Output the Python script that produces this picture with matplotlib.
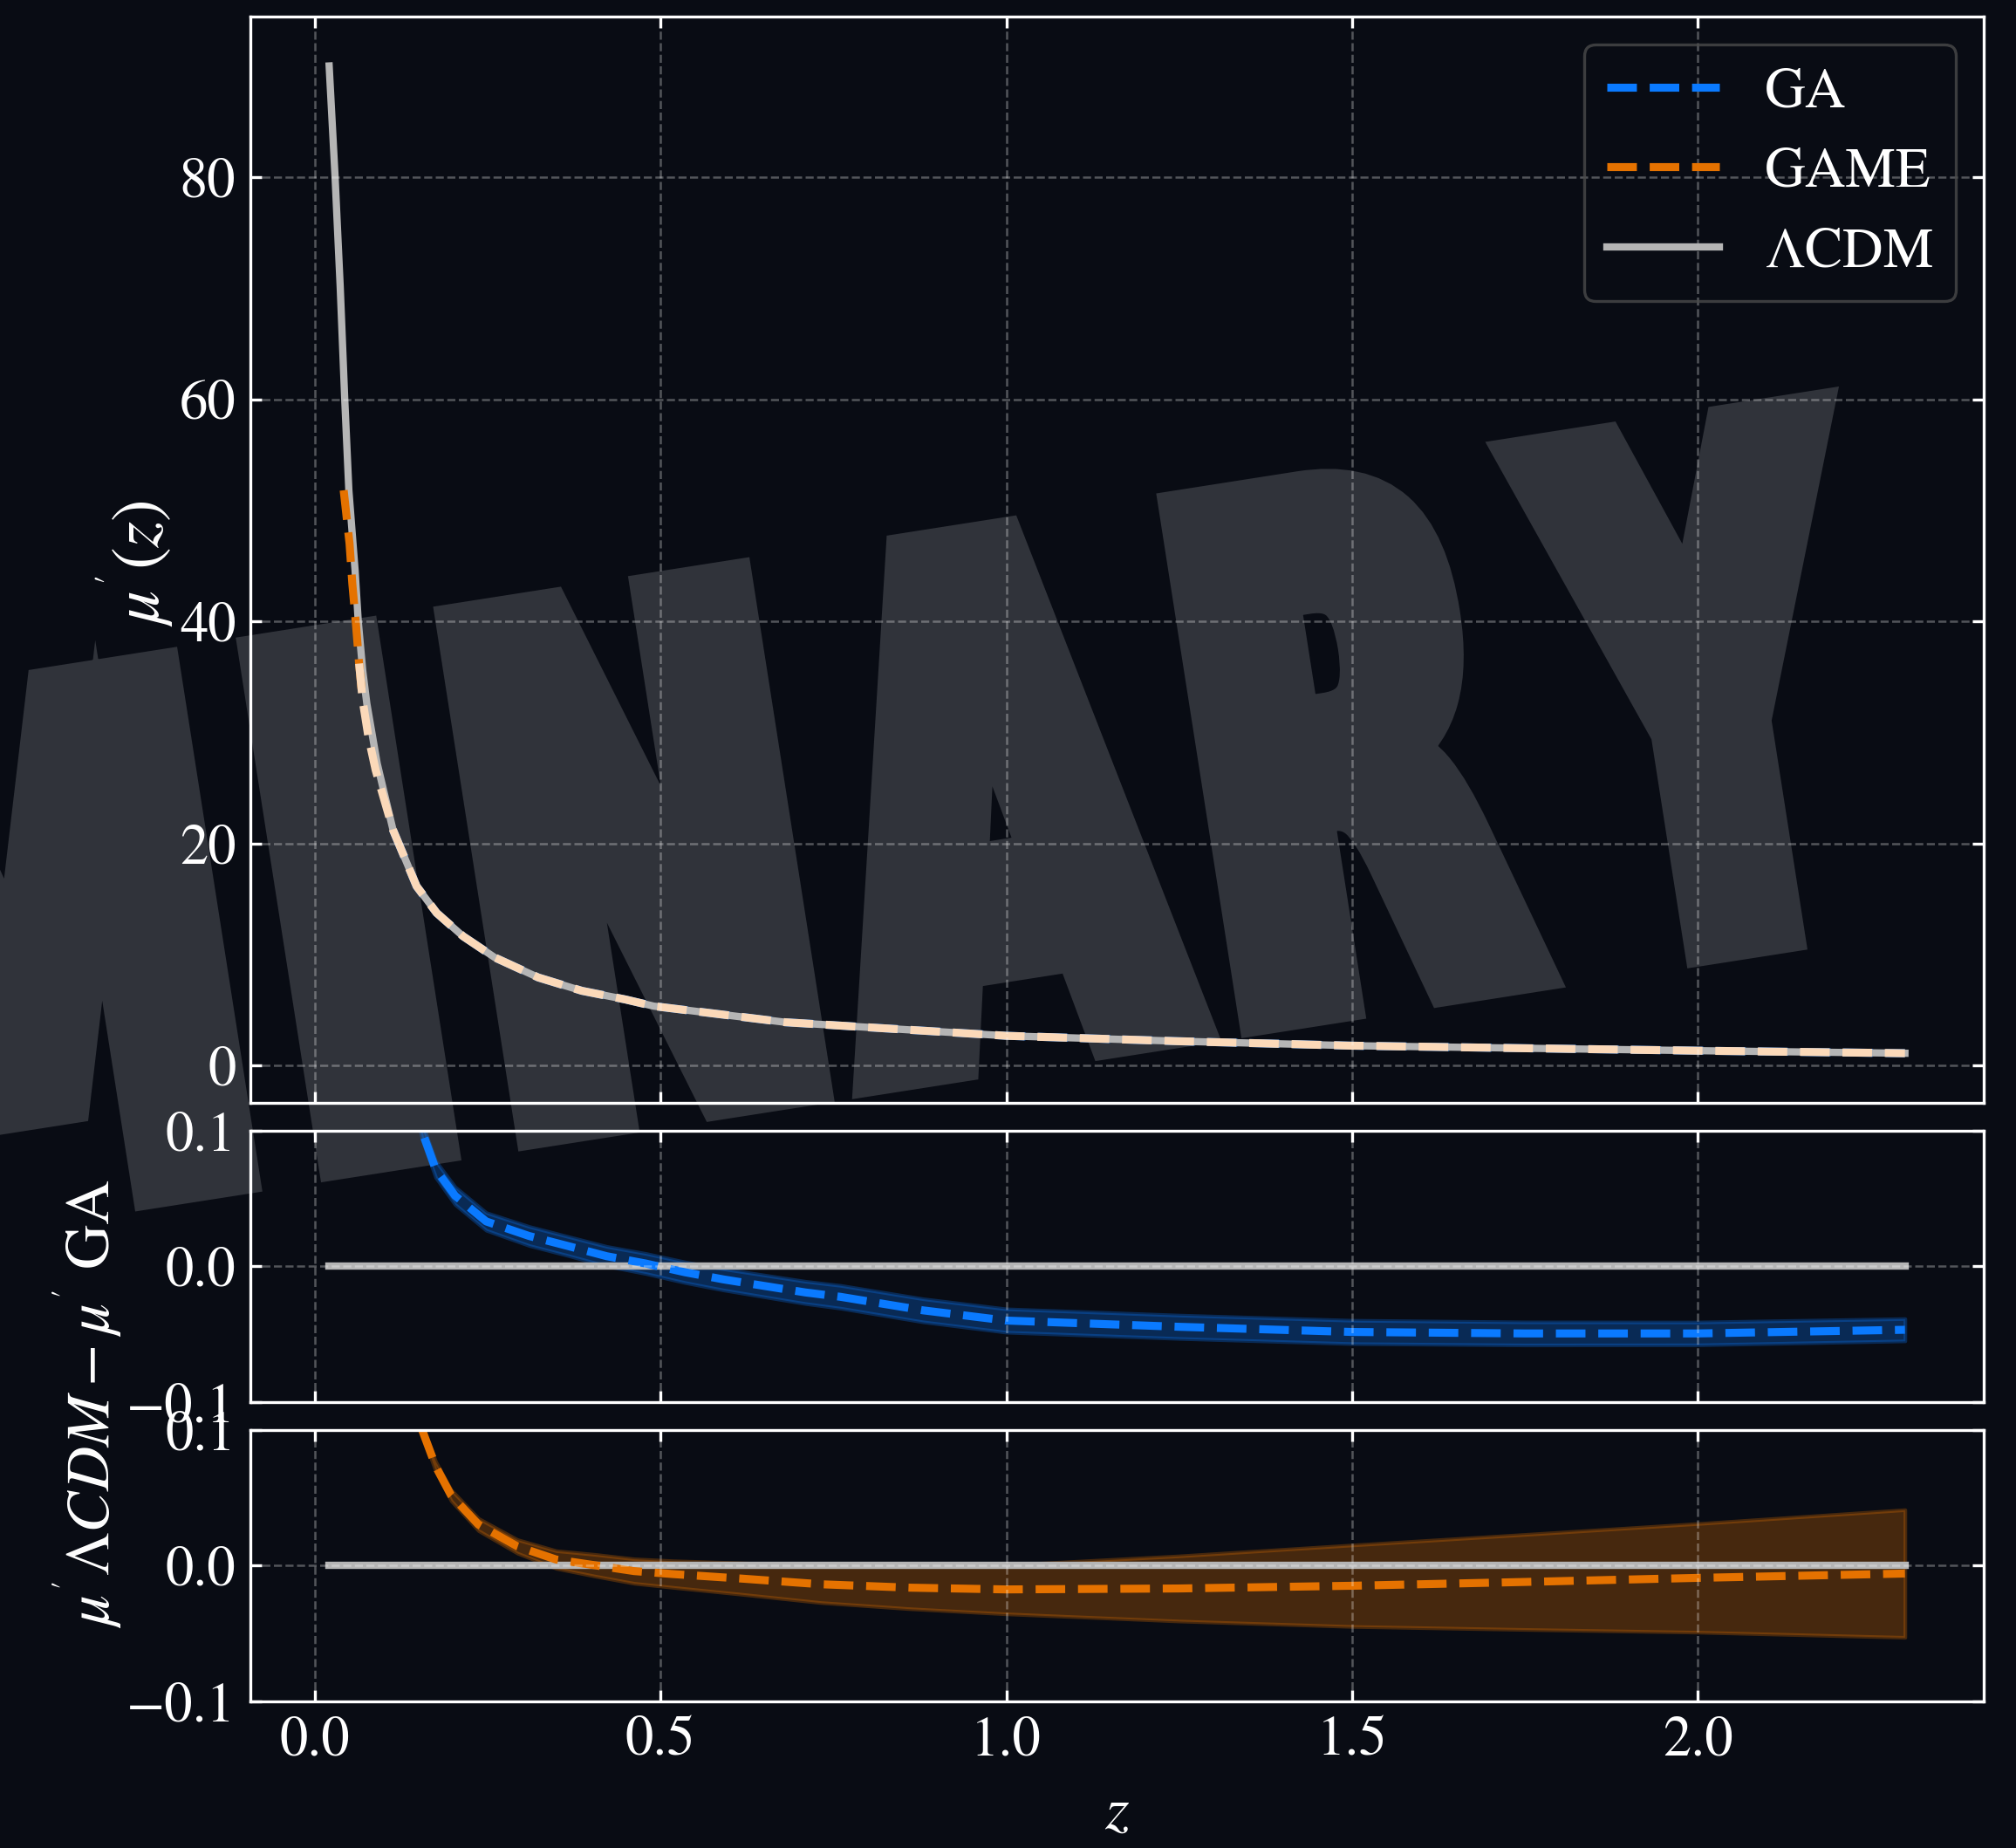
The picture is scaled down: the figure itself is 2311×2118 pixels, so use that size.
import numpy as np
import matplotlib
matplotlib.use("Agg")
import matplotlib.pyplot as plt
import matplotlib.transforms as mtransforms
from matplotlib.textpath import TextPath
from matplotlib.font_manager import FontProperties
from matplotlib.patches import PathPatch
from matplotlib.lines import Line2D

# ---------------------------------------------------------------- data
# mu'(z) for the reference LCDM model
z_mu = [0.0205, 0.029, 0.0365, 0.043, 0.049, 0.058, 0.0626, 0.069, 0.075,
        0.09, 0.113, 0.147, 0.176, 0.214, 0.26, 0.323, 0.386, 0.449, 0.49,
        0.68, 1.0, 1.25, 1.5, 1.75, 2.0, 2.3]
mu_lcdm = [90.0, 80.1, 70.1, 60.05, 51.8, 44.6, 40.0, 35.6, 32.6,
           27.2, 21.2, 16.15, 13.75, 11.66, 9.74, 7.94, 6.74, 5.96, 5.36,
           3.91, 2.69, 2.2, 1.80, 1.57, 1.35, 1.12]

# GAME reconstruction at low redshift (departs from LCDM below z ~ 0.07)
z_game_lowz = [0.0415, 0.05, 0.054, 0.0592, 0.0638, 0.0689, 0.0773, 0.0878]
mu_game_lowz = [51.8, 47.0, 43.4, 39.8, 36.2, 32.9, 29.6, 26.6]

# residuals mu'_LCDM - mu'_model with 1-sigma widths
z_res_ga = [0.145, 0.155, 0.1746, 0.2026, 0.2477, 0.3097, 0.366, 0.422,
            0.4786, 0.535, 0.591, 0.65, 0.7095, 0.76, 0.88, 1.0, 1.25, 1.5,
            1.75, 2.0, 2.3]
res_ga = [0.125, 0.0993, 0.0715, 0.052, 0.033, 0.0223, 0.0149, 0.0074,
          0.002, -0.0044, -0.0097, -0.0145, -0.0193, -0.0225, -0.0325,
          -0.040, -0.0446, -0.0484, -0.0495, -0.0495, -0.0468]
sig_ga = [0.006, 0.006, 0.006, 0.0065, 0.0065, 0.007, 0.007, 0.0072,
          0.0074, 0.0076, 0.0078, 0.008, 0.0082, 0.0084, 0.0085, 0.0086,
          0.0086, 0.0086, 0.0085, 0.0084, 0.0082]

z_res_game = [0.155, 0.1746, 0.197, 0.2365, 0.2928, 0.349, 0.405, 0.4617,
              0.518, 0.6138, 0.732, 0.86, 1.0, 1.25, 1.5, 1.75, 2.0, 2.3]
res_game = [0.100, 0.0732, 0.0518, 0.0303, 0.0142, 0.0045, 0.0003, -0.004,
            -0.0062, -0.0094, -0.0137, -0.0162, -0.0175, -0.0168, -0.0148,
            -0.012, -0.009, -0.0058]
sig_game = [0.003, 0.0035, 0.004, 0.0045, 0.005, 0.0065, 0.008, 0.009,
            0.0098, 0.0115, 0.0135, 0.0155, 0.018, 0.024, 0.030, 0.035,
            0.040, 0.047]

series_labels = ["GA", "GAME", r"$\Lambda$CDM"]
x_ticks = [0.0, 0.5, 1.0, 1.5, 2.0]
main_yticks = [0, 20, 40, 60, 80]
res_yticks = [-0.1, 0.0, 0.1]
res_ylim = (-0.1, 0.1)

# ---------------------------------------------------------------- style
BG = "#090c14"
C_GA = "#0a7aff"
C_GAME = "#e57200"
C_LCDM = "#b5b5b5"
C_TINT = "#fbd9b9"      # GAME dashes where they sit on the LCDM curve
C_WM = "#30333a"

W_PX, H_PX, DPI = 2311, 2118, 300
plt.rcParams["font.family"] = ["STIXGeneral", "DejaVu Serif"]
plt.rcParams["mathtext.fontset"] = "stix"
plt.rcParams["axes.unicode_minus"] = True

fig = plt.figure(figsize=(W_PX / DPI, H_PX / DPI), dpi=DPI, facecolor=BG)
gs = fig.add_gridspec(3, 1, height_ratios=[4, 1, 1],
                      left=287 / W_PX, right=2274 / W_PX,
                      top=1 - 19 / H_PX, bottom=1 - 1950 / H_PX,
                      hspace=0.0514)
ax1 = fig.add_subplot(gs[0])
ax2 = fig.add_subplot(gs[1], sharex=ax1)
ax3 = fig.add_subplot(gs[2], sharex=ax1)
axes = [ax1, ax2, ax3]

# ---------------------------------------------------------------- watermark
# Heavy condensed "PRELIMINARY" stamp, laid out letter by letter along a
# baseline tilted by WM_ANGLE degrees; boxes are (left, right) in pixels
# measured along the baseline from the origin WM_ORIGIN.
WATERMARK = "PRELIMINARY"
wm_boxes = [(-3750, -3407), (-3377, -3010), (-2980, -2690), (-2660, -2390),
            (-2351, -2188), (-2120, -1646), (-1578, -1415), (-1349, -982),
            (-955, -540), (-510, -143), (-116, 270)]
WM_CAP = 632.0
WM_STROKE = 56.0
WM_ANGLE = 8.9
WM_ORIGIN = (1927.0, H_PX - 1111.0)
wm_font = FontProperties(family="DejaVu Sans", weight="bold")
for ch, (u0, u1) in zip(WATERMARK, wm_boxes):
    glyph = TextPath((0, 0), ch, size=1, prop=wm_font)
    ext = glyph.get_extents()
    sx = (u1 - u0 - WM_STROKE) / ext.width
    sy = (WM_CAP - WM_STROKE) / ext.height
    tr = (mtransforms.Affine2D()
          .translate(-ext.x0, -ext.y0)
          .scale(sx, sy)
          .translate(u0 + WM_STROKE / 2, WM_STROKE / 2)
          .rotate_deg(WM_ANGLE)
          .translate(*WM_ORIGIN)
          .scale(1 / DPI)) + fig.dpi_scale_trans
    fig.add_artist(PathPatch(glyph, transform=tr, facecolor=C_WM,
                             edgecolor=C_WM, linewidth=WM_STROKE * 72 / DPI,
                             joinstyle="miter", zorder=-5))

# ---------------------------------------------------------------- main panel
LW_DASH = 2.2
LW_SOLID = 2.0
n_hi = z_mu.index(0.113)
ax1.plot(z_mu[n_hi:], mu_lcdm[n_hi:], ls="--", color=C_GA, lw=LW_DASH,
         zorder=2.0)
ax1.plot(z_mu, mu_lcdm, color=C_LCDM, lw=LW_SOLID, zorder=2.1)
z_game = z_game_lowz + z_mu[n_hi:]
mu_game = mu_game_lowz + mu_lcdm[n_hi:]
ax1.plot(z_game[:6], mu_game[:6], ls="--", color=C_GAME, lw=LW_DASH,
         zorder=2.2)
ax1.plot(z_game[4:], mu_game[4:], ls="--", color=C_TINT, lw=LW_DASH,
         zorder=2.3)

handles = [Line2D([], [], ls="--", color=C_GA, lw=LW_DASH),
           Line2D([], [], ls="--", color=C_GAME, lw=LW_DASH),
           Line2D([], [], color=C_LCDM, lw=LW_SOLID)]
leg = ax1.legend(handles, series_labels, loc="upper right", fontsize=15.5,
                 fancybox=True, facecolor="none", edgecolor="#4a4a4a",
                 framealpha=None)
leg.get_frame().set_linewidth(0.8)
for t in leg.get_texts():
    t.set_color("white")

# ---------------------------------------------------------------- residuals
zero = np.zeros(len(z_mu))
for ax, z, r, s, c in [(ax2, z_res_ga, res_ga, sig_ga, C_GA),
                       (ax3, z_res_game, res_game, sig_game, C_GAME)]:
    r = np.asarray(r)
    s = np.asarray(s)
    ax.fill_between(z, r - s, r + s, color=c, alpha=0.28, lw=1.0, zorder=1.5)
    ax.plot(z_mu, zero, color=C_LCDM, lw=LW_SOLID, zorder=2.0)
    ax.plot(z, r, ls="--", color=c, lw=LW_DASH, zorder=2.2)
    ax.set_ylim(*res_ylim)
    ax.set_yticks(res_yticks)

ax1.set_yticks(main_yticks)
ax1.set_xticks(x_ticks)

for ax in axes:
    ax.set_facecolor("none")
    ax.set_axisbelow(False)
    ax.grid(True, color="white", alpha=0.3, ls="--", lw=0.6)
    ax.tick_params(direction="in", top=True, right=True, length=3.2,
                   width=0.8, colors="white", labelsize=15.5, pad=4)
    for sp in ax.spines.values():
        sp.set_color("white")
        sp.set_linewidth(0.8)
ax1.tick_params(labelbottom=False)
ax2.tick_params(labelbottom=False)

ax3.set_xlabel(r"$z$", fontsize=17, color="white", labelpad=5)
fig.text(155 / W_PX, 1 - 646 / H_PX, r"$\mu^{'}(z)$", rotation=90,
         ha="center", va="center", fontsize=18.5, color="white")
fig.text(100 / W_PX, 1 - 1609 / H_PX, r"$\mu^{'}\Lambda CDM-\mu^{'}$ GA",
         rotation=90, ha="center", va="center", fontsize=17, color="white")

fig.savefig("out.png", dpi=DPI, facecolor=BG)
